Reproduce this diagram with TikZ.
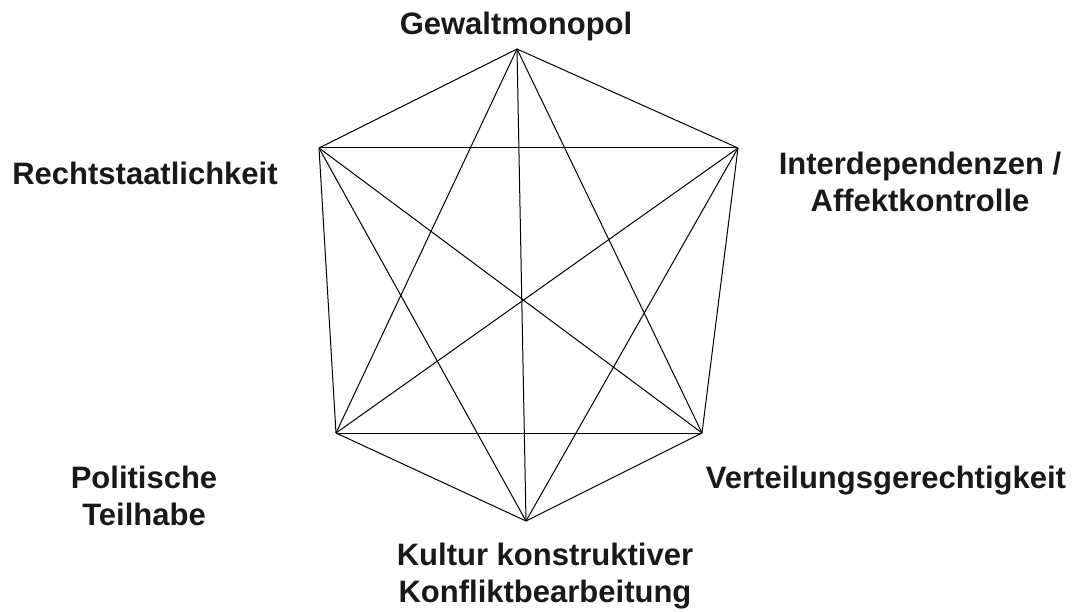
\documentclass[tikz,border=0pt]{standalone}
\usepackage{fontspec}
\setmainfont{Liberation Sans}
\begin{document}
\begin{tikzpicture}[x=1bp,y=-1bp,
  lbl/.style={font=\bfseries\fontsize{31bp}{37bp}\selectfont, align=center, inner sep=0pt, anchor=base, text=black!90},
  edge/.style={line width=1bp, black}]
\useasboundingbox (0,0) rectangle (1077,612);
\coordinate (T) at (517,49);
\coordinate (UL) at (319,148);
\coordinate (UR) at (738,148);
\coordinate (LL) at (336,433);
\coordinate (LR) at (702,433);
\coordinate (B) at (526,521);
\foreach \a/\b in {T/UL,T/UR,T/LL,T/LR,T/B,UL/UR,UL/LL,UL/LR,UL/B,UR/LL,UR/LR,UR/B,LL/LR,LL/B,LR/B}
  \draw[edge] (\a) -- (\b);
\node[lbl] (gew) at (516,35) {Gewaltmonopol};
\node[lbl] (rec) at (145,185) {Rechtstaatlichkeit};
\node[lbl] (int) at (920,212) {Interdependenzen /\\Affektkontrolle};
\node[lbl] (pol) at (144,525) {Politische\\Teilhabe};
\node[lbl] (ver) at (886,488) {Verteilungsgerechtigkeit};
\node[lbl] (kul) at (545,602) {Kultur konstruktiver\\Konfliktbearbeitung};
\end{tikzpicture}
\end{document}
